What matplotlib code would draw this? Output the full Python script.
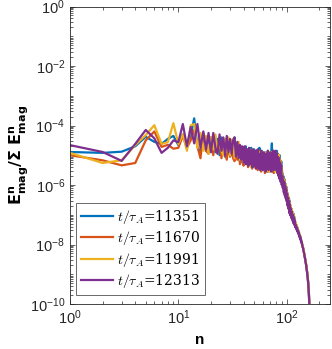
import matplotlib
matplotlib.use('Agg')
import matplotlib.pyplot as plt
import numpy as np
from matplotlib.ticker import LogLocator, NullFormatter

plt.rcParams['font.family'] = ['Liberation Sans', 'DejaVu Sans']
plt.rcParams['axes.unicode_minus'] = False

labels = ['11351', '11670', '11991', '12313']
colori = ['#0072BD', '#D95319', '#EDB120', '#7E2F8E']

# log10(E^n_mag / sum E^n_mag), n = 1, 2, 3, ...
log_e_11351 = [
    -4.89, -4.92, -4.88, -4.70, -4.38, -4.55, -4.62, -4.45, -4.35, -4.66,
    -4.30, -4.62, -4.35, -3.76, -4.70, -4.95, -4.30, -4.85, -4.40, -4.80,
    -4.35, -4.90, -4.45, -5.00, -4.40, -4.85, -5.05, -4.45, -4.95, -4.55,
    -5.00, -4.50, -4.40, -5.10, -4.65, -5.05, -5.20, -4.70, -5.25, -4.75,
    -5.20, -4.70, -5.30, -4.80, -5.20, -5.35, -4.75, -5.25, -5.40, -4.80,
    -5.30, -4.85, -5.40, -4.90, -5.35, -4.75, -5.45, -4.95, -4.85, -5.45,
    -4.95, -5.50, -4.90, -5.45, -4.95, -5.55, -4.85, -5.40, -5.50, -4.90,
    -5.45, -4.95, -4.60, -5.55, -4.95, -4.85, -5.50, -4.90, -5.45, -4.95,
    -4.85, -5.55, -4.95, -5.45, -5.65, -5.00, -5.55, -5.75, -5.20, -5.85,
    -5.60, -6.00, -5.70, -6.10, -5.80, -6.20, -5.95, -6.35, -6.05, -6.45,
    -6.25, -6.60, -6.40, -6.70, -6.45, -6.85, -6.55, -6.95, -6.70, -7.05,
    -6.80, -7.10, -6.90, -7.15, -6.95, -7.25, -7.05, -7.30, -7.15, -7.38,
    -7.28, -7.38, -7.34, -7.44, -7.42, -7.50, -7.54, -7.52, -7.62, -7.60,
    -7.68, -7.72, -7.70, -7.80, -7.78, -7.86, -7.90, -7.94, -7.98, -8.04,
    -8.08, -8.12, -8.18, -8.22, -8.28, -8.34, -8.40, -8.46, -8.52, -8.58,
    -8.64, -8.72, -8.80, -8.88, -8.96, -9.06, -9.16, -9.28, -9.42, -9.58,
    -9.78, -10.02, -10.40, -11.00, -12.00,
]
log_e_11670 = [
    -5.00, -5.17, -5.34, -5.26, -4.50, -4.20, -4.72, -4.65, -4.78, -4.75,
    -4.35, -4.75, -4.50, -4.15, -4.70, -5.10, -4.25, -4.85, -4.95, -4.40,
    -5.00, -4.40, -4.90, -4.50, -5.10, -4.55, -4.95, -5.15, -4.55, -5.05,
    -4.60, -5.10, -5.20, -4.65, -5.15, -4.70, -5.30, -4.75, -5.20, -5.35,
    -4.80, -5.25, -4.85, -5.40, -4.90, -4.80, -5.35, -5.45, -4.90, -5.30,
    -5.40, -4.90, -5.35, -5.50, -4.85, -5.40, -4.95, -5.55, -5.30, -4.90,
    -5.45, -5.00, -5.60, -4.95, -5.40, -4.90, -5.55, -5.45, -4.95, -5.55,
    -5.00, -5.50, -5.05, -4.90, -5.45, -5.60, -5.00, -5.50, -4.95, -5.45,
    -5.55, -4.95, -5.45, -5.65, -5.05, -5.60, -5.75, -5.20, -5.80, -5.40,
    -5.70, -5.95, -5.75, -6.15, -5.85, -6.25, -6.00, -6.40, -6.10, -6.50,
    -6.30, -6.65, -6.40, -6.75, -6.50, -6.90, -6.60, -6.95, -6.75, -7.05,
    -6.85, -7.10, -6.95, -7.20, -7.00, -7.28, -7.10, -7.32, -7.18, -7.40,
    -7.30, -7.40, -7.36, -7.46, -7.44, -7.52, -7.56, -7.54, -7.64, -7.62,
    -7.70, -7.74, -7.72, -7.82, -7.80, -7.88, -7.92, -7.96, -8.00, -8.06,
    -8.10, -8.14, -8.20, -8.24, -8.30, -8.36, -8.42, -8.48, -8.54, -8.60,
    -8.66, -8.74, -8.82, -8.90, -8.98, -9.08, -9.18, -9.30, -9.44, -9.60,
    -9.80, -10.05, -10.45, -11.05, -12.10,
]
log_e_11991 = [
    -4.92, -5.26, -5.17, -4.66, -4.32, -3.99, -4.62, -4.56, -3.92, -4.62,
    -4.30, -4.85, -4.00, -3.95, -4.75, -4.25, -4.85, -4.35, -4.95, -4.40,
    -4.80, -4.30, -4.95, -4.40, -4.85, -5.00, -4.45, -4.90, -4.40, -5.00,
    -4.50, -4.45, -5.10, -4.60, -5.05, -4.55, -5.15, -4.70, -5.10, -5.25,
    -4.75, -5.20, -5.30, -4.80, -5.25, -4.85, -5.40, -4.90, -5.30, -4.85,
    -5.30, -5.45, -4.85, -5.30, -5.40, -4.90, -5.35, -4.85, -5.50, -4.95,
    -4.90, -5.40, -4.95, -5.50, -4.90, -5.40, -4.95, -5.55, -4.90, -5.35,
    -5.45, -4.90, -5.35, -5.50, -4.85, -5.40, -4.95, -5.55, -4.90, -5.40,
    -5.00, -5.60, -5.00, -5.50, -5.00, -5.70, -5.15, -5.65, -5.85, -5.40,
    -5.65, -6.05, -5.80, -6.15, -5.85, -6.30, -5.95, -6.40, -6.10, -6.45,
    -6.25, -6.65, -6.35, -6.80, -6.50, -6.90, -6.60, -7.00, -6.70, -7.08,
    -6.80, -7.12, -6.90, -7.18, -6.98, -7.25, -7.08, -7.30, -7.16, -7.36,
    -7.28, -7.40, -7.34, -7.44, -7.40, -7.52, -7.50, -7.56, -7.60, -7.62,
    -7.66, -7.74, -7.70, -7.80, -7.82, -7.86, -7.92, -7.94, -8.00, -8.04,
    -8.10, -8.12, -8.20, -8.22, -8.30, -8.34, -8.42, -8.46, -8.54, -8.60,
    -8.64, -8.74, -8.80, -8.90, -8.96, -9.08, -9.16, -9.30, -9.42, -9.60,
    -9.78, -10.04, -10.42, -11.02, -12.05,
]
log_e_12313 = [
    -4.66, -4.89, -5.19, -4.62, -4.15, -4.43, -4.92, -4.75, -4.50, -4.56,
    -3.95, -4.70, -4.05, -4.60, -3.95, -4.75, -4.20, -4.80, -4.25, -4.90,
    -4.25, -4.75, -4.95, -4.30, -4.85, -4.40, -5.00, -4.35, -4.90, -4.45,
    -4.95, -4.50, -4.40, -5.05, -4.55, -5.10, -4.65, -5.15, -4.70, -5.25,
    -4.70, -5.30, -4.80, -5.35, -4.75, -5.30, -4.85, -5.40, -4.80, -5.35,
    -4.85, -5.45, -4.90, -4.80, -5.45, -4.95, -5.50, -4.85, -5.40, -5.50,
    -4.90, -5.45, -4.95, -5.55, -4.95, -5.45, -4.85, -5.50, -5.00, -5.45,
    -4.90, -5.55, -4.95, -5.45, -4.85, -5.50, -4.95, -5.45, -4.85, -5.50,
    -4.95, -5.60, -5.05, -5.70, -5.10, -5.80, -5.25, -5.90, -5.35, -6.00,
    -5.70, -6.10, -5.85, -6.25, -5.90, -6.35, -6.05, -6.45, -6.15, -6.55,
    -6.30, -6.70, -6.45, -6.80, -6.55, -6.95, -6.65, -7.02, -6.78, -7.10,
    -6.88, -7.15, -6.98, -7.22, -7.05, -7.30, -7.12, -7.35, -7.20, -7.42,
    -7.34, -7.46, -7.40, -7.52, -7.46, -7.58, -7.54, -7.64, -7.60, -7.70,
    -7.68, -7.78, -7.74, -7.84, -7.82, -7.92, -7.90, -7.98, -8.02, -8.08,
    -8.10, -8.16, -8.20, -8.26, -8.30, -8.38, -8.42, -8.50, -8.56, -8.62,
    -8.68, -8.76, -8.84, -8.92, -9.00, -9.10, -9.20, -9.32, -9.46, -9.62,
    -9.82, -10.06, -10.44, -11.04, -12.10,
]

serie = [log_e_11351, log_e_11670, log_e_11991, log_e_12313]

fig = plt.figure(figsize=(3.32, 3.49), dpi=100)
ax = fig.add_axes([70 / 332, 1 - 304 / 349, 260 / 332, 297.5 / 349])

for vals, lab, col in zip(serie, labels, colori):
    vals = np.array(vals)
    n = np.arange(1, len(vals) + 1)
    ax.plot(n, 10.0 ** vals, '-', color=col, linewidth=1.6,
            label=r'$t/\tau_A$=' + lab)

ax.set_xscale('log')
ax.set_yscale('log')
ax.set_xlim(1, 251)
ax.set_ylim(1e-10, 1)
ax.set_yticks([1e-10, 1e-8, 1e-6, 1e-4, 1e-2, 1])
ax.yaxis.set_minor_locator(LogLocator(base=10, subs=np.arange(1, 10), numticks=40))
ax.yaxis.set_minor_formatter(NullFormatter())
ax.xaxis.set_minor_locator(LogLocator(base=10, subs=np.arange(2, 10), numticks=20))
ax.xaxis.set_minor_formatter(NullFormatter())

ax.tick_params(which='both', direction='in', top=True, right=True,
               colors='#262626', labelcolor='#262626', labelsize=10.5, width=0.5)
ax.tick_params(which='major', length=3.5)
ax.tick_params(which='minor', length=2)
for s in ax.spines.values():
    s.set_color('#262626')
    s.set_linewidth(0.6)

ax.set_xlabel('n', fontweight='bold', fontsize=11, labelpad=4)
ax.set_ylabel(r'$\mathbf{E^{n}_{mag}/\Sigma\ E^{n}_{mag}}$', fontsize=11.5, labelpad=0,
              math_fontfamily='dejavusans')

leg = ax.legend(loc='lower left', bbox_to_anchor=(6 / 260, 9 / 297.5), fontsize=10,
                frameon=True, fancybox=False, edgecolor='#262626',
                handlelength=2.3, handletextpad=0.3, borderpad=0.35,
                labelspacing=0.25, borderaxespad=0)
leg.get_frame().set_linewidth(0.6)
for t in leg.get_texts():
    t.set_math_fontfamily('cm')
    t.set_family('DejaVu Serif')

fig.savefig('out.png', dpi=100)
